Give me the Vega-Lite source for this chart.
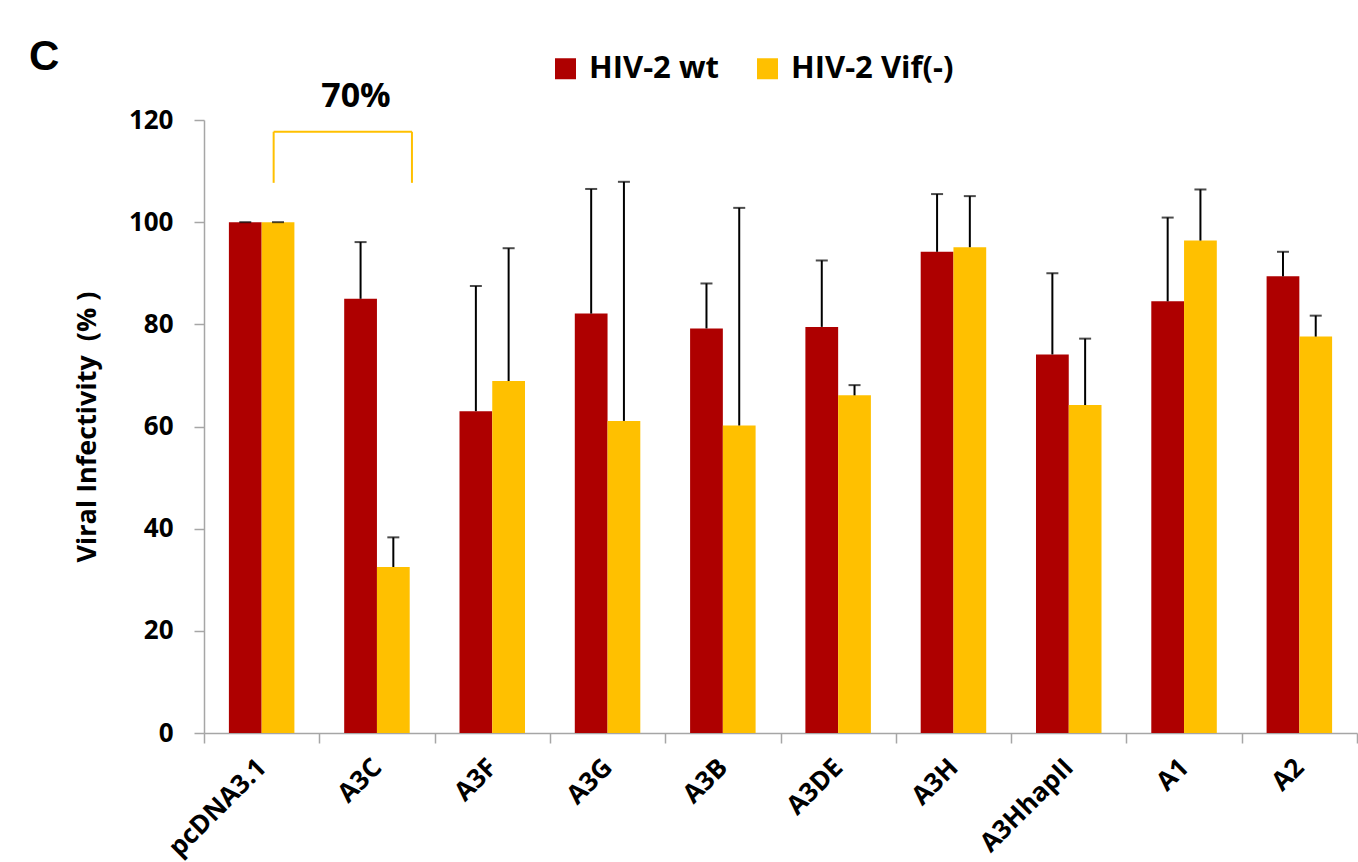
{
  "$schema": "https://vega.github.io/schema/vega-lite/v6.json",
  "width": 1153,
  "height": 613,
  "autosize": {"type": "none"},
  "padding": {"left": 204, "top": 120, "right": 1, "bottom": 129},
  "background": "white",
  "config": {"view": {"stroke": null}, "font": "Open Sans"},
  "title": {"text": "C", "anchor": "start", "frame": "group", "dx": -175, "dy": 40, "offset": 14, "fontSize": 42, "font": "Liberation Sans", "fontWeight": "bold", "color": "black"},
  "datasets": {
    "main": [
      {"category": "pcDNA3.1", "series": "HIV-2 wt", "value": 100, "upper": 100},
      {"category": "pcDNA3.1", "series": "HIV-2 Vif(-)", "value": 100, "upper": 100},
      {"category": "A3C", "series": "HIV-2 wt", "value": 85.0, "upper": 96.1},
      {"category": "A3C", "series": "HIV-2 Vif(-)", "value": 32.5, "upper": 38.3},
      {"category": "A3F", "series": "HIV-2 wt", "value": 63.0, "upper": 87.5},
      {"category": "A3F", "series": "HIV-2 Vif(-)", "value": 68.9, "upper": 94.9},
      {"category": "A3G", "series": "HIV-2 wt", "value": 82.1, "upper": 106.5},
      {"category": "A3G", "series": "HIV-2 Vif(-)", "value": 61.1, "upper": 107.9},
      {"category": "A3B", "series": "HIV-2 wt", "value": 79.2, "upper": 88.0},
      {"category": "A3B", "series": "HIV-2 Vif(-)", "value": 60.2, "upper": 102.8},
      {"category": "A3DE", "series": "HIV-2 wt", "value": 79.5, "upper": 92.5},
      {"category": "A3DE", "series": "HIV-2 Vif(-)", "value": 66.1, "upper": 68.1},
      {"category": "A3H", "series": "HIV-2 wt", "value": 94.2, "upper": 105.5},
      {"category": "A3H", "series": "HIV-2 Vif(-)", "value": 95.1, "upper": 105.1},
      {"category": "A3HhapII", "series": "HIV-2 wt", "value": 74.1, "upper": 90.0},
      {"category": "A3HhapII", "series": "HIV-2 Vif(-)", "value": 64.2, "upper": 77.2},
      {"category": "A1", "series": "HIV-2 wt", "value": 84.5, "upper": 100.9},
      {"category": "A1", "series": "HIV-2 Vif(-)", "value": 96.4, "upper": 106.4},
      {"category": "A2", "series": "HIV-2 wt", "value": 89.4, "upper": 94.2},
      {"category": "A2", "series": "HIV-2 Vif(-)", "value": 77.6, "upper": 81.7}
    ],
    "bracket": [
      {"category": "pcDNA3.1", "to": "A3C", "low": 107.7, "high": 117.7, "label": "70%", "labelY": 124.5}
    ]
  },
  "layer": [
    {
      "data": {"name": "main"},
      "mark": {"type": "bar"},
      "encoding": {
        "x": {
          "field": "category", "type": "nominal",
          "scale": {"domain": ["pcDNA3.1", "A3C", "A3F", "A3G", "A3B", "A3DE", "A3H", "A3HhapII", "A1", "A2"], "paddingInner": 0, "paddingOuter": 0},
          "axis": {"title": null, "labelAngle": -45, "labelAlign": "right", "labelBaseline": "middle", "labelFontSize": 26, "labelFontWeight": "bold", "labelColor": "black", "labelPadding": 20, "tickSize": 10, "tickBand": "extent", "domainColor": "#A6A6A6", "tickColor": "#A6A6A6", "domainWidth": 1.5, "tickWidth": 1.5, "labelFont": "Open Sans"}
        },
        "xOffset": {"field": "series", "type": "nominal", "sort": ["HIV-2 wt", "HIV-2 Vif(-)"], "scale": {"paddingInner": 0, "paddingOuter": 0.76}},
        "y": {
          "field": "value", "type": "quantitative",
          "scale": {"domain": [0, 120], "nice": false},
          "axis": {"title": "Viral Infectivity\u00a0 (%\u00a0)", "titleFontSize": 27, "titleFontWeight": "bold", "titleColor": "black", "titlePadding": 27, "titleFont": "Open Sans", "values": [0, 20, 40, 60, 80, 100, 120], "grid": false, "labelFontSize": 26, "labelFontWeight": "bold", "labelColor": "black", "labelPadding": 21, "tickSize": 10, "domainColor": "#A6A6A6", "tickColor": "#A6A6A6", "domainWidth": 1.5, "tickWidth": 1.5, "labelFont": "Open Sans"}
        },
        "color": {
          "field": "series", "type": "nominal",
          "scale": {"domain": ["HIV-2 wt", "HIV-2 Vif(-)"], "range": ["#AE0000", "#FFC000"]},
          "legend": {"title": null, "orient": "none", "legendX": 346, "legendY": -67, "direction": "horizontal", "symbolType": "square", "symbolSize": 441, "symbolStrokeWidth": 0, "symbolOpacity": 1, "labelFontSize": 31, "labelFont": "Open Sans", "labelFontWeight": "bold", "labelColor": "black", "labelOffset": 8, "labelLimit": 0, "columnPadding": 33, "padding": 0}
        }
      }
    },
    {
      "data": {"name": "main"},
      "mark": {"type": "rule", "color": "black", "strokeWidth": 2},
      "encoding": {
        "x": {"field": "category", "type": "nominal"},
        "xOffset": {"field": "series", "type": "nominal", "sort": ["HIV-2 wt", "HIV-2 Vif(-)"]},
        "y": {"field": "value", "type": "quantitative"},
        "y2": {"field": "upper"}
      }
    },
    {
      "data": {"name": "main"},
      "mark": {"type": "tick", "color": "black", "size": 12, "thickness": 2, "orient": "horizontal"},
      "encoding": {
        "x": {"field": "category", "type": "nominal"},
        "xOffset": {"field": "series", "type": "nominal", "sort": ["HIV-2 wt", "HIV-2 Vif(-)"]},
        "y": {"field": "upper", "type": "quantitative"}
      }
    },
    {
      "data": {"name": "bracket"},
      "mark": {"type": "rule", "color": "#FFC000", "strokeWidth": 2, "xOffset": 12, "x2Offset": 35},
      "encoding": {
        "x": {"field": "category", "type": "nominal"},
        "x2": {"field": "to"},
        "y": {"field": "high", "type": "quantitative"}
      }
    },
    {
      "data": {"name": "bracket"},
      "mark": {"type": "rule", "color": "#FFC000", "strokeWidth": 2, "xOffset": 12},
      "encoding": {
        "x": {"field": "category", "type": "nominal"},
        "y": {"field": "low", "type": "quantitative"},
        "y2": {"field": "high"}
      }
    },
    {
      "data": {"name": "bracket"},
      "mark": {"type": "rule", "color": "#FFC000", "strokeWidth": 2, "xOffset": 35},
      "encoding": {
        "x": {"field": "to", "type": "nominal"},
        "y": {"field": "low", "type": "quantitative"},
        "y2": {"field": "high"}
      }
    },
    {
      "data": {"name": "bracket"},
      "mark": {"type": "text", "fontSize": 34, "fontWeight": "bold", "font": "Open Sans", "color": "black", "xOffset": -21, "baseline": "middle", "align": "center"},
      "encoding": {
        "x": {"field": "to", "type": "nominal"},
        "y": {"field": "labelY", "type": "quantitative"},
        "text": {"field": "label"}
      }
    }
  ]
}
